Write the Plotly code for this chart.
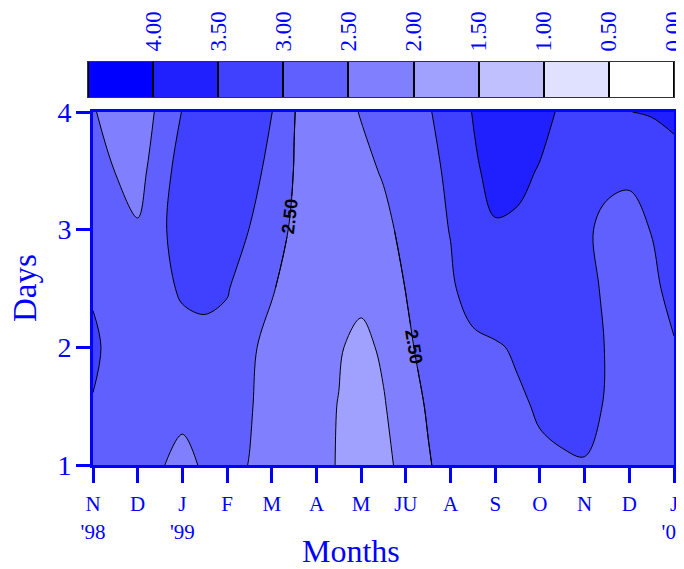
import plotly.graph_objects as go

# ---- data ----
month_pos = [0, 0.5, 1, 1.5, 2, 2.5, 3, 3.5, 4, 4.5, 5, 5.5, 6, 6.5, 7, 7.5, 8, 8.5, 9, 9.5, 10, 10.5, 11, 11.5, 12, 12.5, 13]
days = [1, 1.5, 2, 2.5, 3, 3.5, 4]

z_day1_0 = [2.85, 2.75, 2.65, 2.53, 2.39, 2.55, 2.62, 2.49, 2.30, 2.15, 2.05, 1.99, 1.85, 1.92, 2.10, 2.45, 2.76, 2.82, 2.85, 2.88, 2.92, 2.94, 2.97, 2.90, 2.80, 2.75, 2.75]
z_day1_5 = [2.97, 2.80, 2.70, 2.65, 2.60, 2.65, 2.70, 2.54, 2.29, 2.20, 2.10, 1.99, 1.85, 1.97, 2.22, 2.56, 2.70, 2.78, 2.85, 2.93, 3.05, 3.15, 3.18, 2.95, 2.80, 2.75, 2.75]
z_day2_0 = [3.10, 2.82, 2.80, 2.85, 2.75, 2.81, 2.85, 2.60, 2.31, 2.20, 2.10, 2.03, 1.90, 2.06, 2.40, 2.68, 2.80, 2.88, 2.95, 3.06, 3.15, 3.20, 3.15, 2.98, 2.80, 2.85, 2.95]
z_day2_5 = [2.94, 2.70, 2.65, 2.80, 3.09, 3.15, 3.03, 2.78, 2.55, 2.24, 2.10, 2.05, 2.10, 2.25, 2.51, 2.70, 2.92, 3.23, 3.35, 3.40, 3.35, 3.25, 3.15, 2.92, 2.75, 2.85, 3.21]
z_day3_0 = [2.75, 2.65, 2.55, 2.85, 3.35, 3.45, 3.30, 2.99, 2.75, 2.41, 2.25, 2.15, 2.20, 2.35, 2.66, 2.80, 3.02, 3.30, 3.45, 3.40, 3.30, 3.20, 3.08, 2.88, 2.80, 3.02, 3.10]
z_day3_5 = [2.90, 2.49, 2.30, 2.80, 3.19, 3.35, 3.40, 3.25, 2.80, 2.49, 2.25, 2.20, 2.35, 2.55, 2.75, 2.90, 3.07, 3.40, 3.69, 3.65, 3.46, 3.30, 3.20, 3.12, 3.10, 3.20, 3.17]
z_day4_0 = [2.55, 2.24, 2.30, 2.57, 3.02, 3.20, 3.30, 3.20, 3.01, 2.51, 2.30, 2.30, 2.53, 2.70, 2.80, 2.95, 3.26, 3.515, 3.80, 3.85, 3.70, 3.406, 3.30, 3.25, 3.495, 3.53, 3.70]

month_ticks = list(range(14))
month_labels = ["N<br>'98", "D", "J<br>'99", "F", "M", "A", "M", "JU", "A", "S", "O", "N", "D", "J<br>'00"]
day_ticks = [1, 2, 3, 4]

levels = [0.0, 0.5, 1.0, 1.5, 2.0, 2.5, 3.0, 3.5, 4.0]
level_labels = ["0.00", "0.50", "1.00", "1.50", "2.00", "2.50", "3.00", "3.50", "4.00"]
band_colors = ["#FFFFFF", "#E0E0FF", "#C0C0FF", "#A0A0FF", "#8080FF",
               "#6060FF", "#4040FF", "#2020FF", "#0000FF"]
labeled_level = 2.5

# ---- derived ----
z = [z_day1_0, z_day1_5, z_day2_0, z_day2_5, z_day3_0, z_day3_5, z_day4_0]
nb = len(band_colors)
zmin, zmax = 0.0, 0.5 * nb
cscale = []
for i, c in enumerate(band_colors):
    cscale.append([i / nb, c])
    cscale.append([(i + 1) / nb, c])
band_mid = [lv + 0.25 for lv in levels]

BLUE = "#0000FF"
SERIF = "Liberation Serif, Times New Roman, serif"

fig = go.Figure()

fig.add_trace(go.Contour(
    x=month_pos, y=days, z=z,
    colorscale=cscale, zmin=zmin, zmax=zmax, showscale=False,
    contours=dict(start=0.5, end=4.0, size=0.5, coloring="fill", showlabels=False),
    line=dict(color="black", width=1, smoothing=1),
    hoverinfo="skip",
))

# label traces: the two labelled 2.50 lines (upper part of the left one, lower part of the right one)
label_font = dict(size=18, color="black", family="Liberation Sans, Arial", weight="bold")
for xs, ys in [(slice(6, 12), slice(3, 7)), (slice(12, 17), slice(0, 5))]:
    fig.add_trace(go.Contour(
        x=month_pos[xs], y=days[ys], z=[row[xs] for row in z[ys]],
        showscale=False,
        contours=dict(start=labeled_level, end=labeled_level, size=0.5, coloring="none",
                      showlabels=True, labelfont=label_font, labelformat=".2f"),
        line=dict(color="black", width=1, smoothing=1),
        hoverinfo="skip",
    ))

# colour key as heatmap on its own axes
fig.add_trace(go.Heatmap(
    x=band_mid, y=[0], z=[band_mid],
    colorscale=cscale, zmin=zmin, zmax=zmax, showscale=False,
    xgap=2, xaxis="x2", yaxis="y2", hoverinfo="skip",
))

# page body has an 8px margin: figure drawn 8px right/down of the window origin
OFF = 8
W, H = 684 - OFF, 569 - OFF
L, R, T, B = 88 - OFF, 10, 2, 104
PW, PH = W - L - R, H - T - B


def px_x(px):
    return (px - OFF - L) / PW


def px_y(py):
    return (H - B - (py - OFF)) / PH


fig.update_layout(
    width=W, height=H,
    margin=dict(l=L, r=R, t=T, b=B, autoexpand=False),
    paper_bgcolor="white", plot_bgcolor="black",
    showlegend=False,
    xaxis=dict(domain=[px_x(93), 1], range=[0, 13], tickmode="array", tickvals=month_ticks,
               ticktext=month_labels, ticks="outside", ticklen=15, tickwidth=2.5, tickcolor=BLUE,
               showline=True, linecolor=BLUE, linewidth=3, mirror=True, showgrid=False, zeroline=False,
               tickfont=dict(family=SERIF, size=21, color=BLUE), ticklabelstandoff=3,
               ticklabeloverflow="allow", automargin=False),
    yaxis=dict(domain=[0, px_y(112)], range=[1, 4], tickmode="array", tickvals=day_ticks,
               ticks="outside", ticklen=14, tickwidth=2.5, tickcolor=BLUE,
               showline=True, linecolor=BLUE, linewidth=3, mirror=True, showgrid=False, zeroline=False,
               tickfont=dict(family=SERIF, size=28, color=BLUE), ticklabelstandoff=-1,
               ticklabeloverflow="allow", automargin=False),
    xaxis2=dict(domain=[0, 1], range=[zmax, 0], anchor="y2", side="top", tickmode="array",
                tickvals=levels, ticktext=level_labels, tickangle=-90, ticks="",
                tickfont=dict(family=SERIF, size=23, color=BLUE), ticklabelstandoff=5,
                ticklabeloverflow="allow",
                showline=True, linecolor="#333333", linewidth=1, mirror=True,
                showgrid=False, zeroline=False, automargin=False),
    yaxis2=dict(domain=[px_y(97), px_y(62)], range=[-0.5, 0.5], anchor="x2",
                showticklabels=False, ticks="", showline=True, linecolor="#333333", linewidth=1,
                mirror=True, showgrid=False, zeroline=False, automargin=False),
    annotations=[
        dict(text="Months", x=px_x(351), y=px_y(551), xref="paper", yref="paper",
             xanchor="center", yanchor="middle",
             showarrow=False, font=dict(family=SERIF, size=32, color=BLUE)),
        dict(text="Days", x=px_x(25), y=px_y(288), xref="paper", yref="paper",
             xanchor="center", yanchor="middle",
             showarrow=False, textangle=-90, font=dict(family=SERIF, size=33, color=BLUE)),
    ],
)

fig.write_html("out.html")
